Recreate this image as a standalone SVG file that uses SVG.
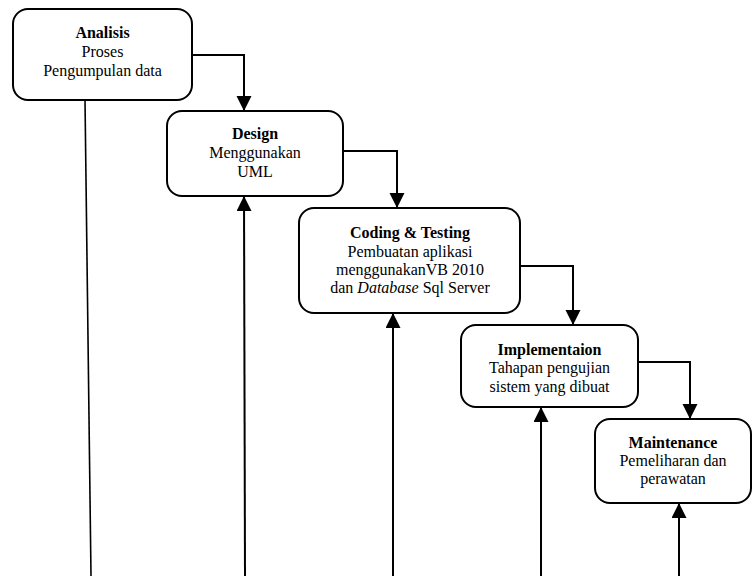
<svg xmlns="http://www.w3.org/2000/svg" width="753" height="576" viewBox="0 0 753 576">
<style>
.box{fill:#fff;stroke:#000;stroke-width:2}
text{font-family:"Liberation Serif","Times New Roman",serif;font-size:16px;fill:#000;text-anchor:middle}
.t{font-weight:bold}
.c{fill:none;stroke:#000;stroke-width:2}
.thin{fill:none;stroke:#000;stroke-width:1.6}
</style>
<defs>
<marker id="ah" markerUnits="userSpaceOnUse" markerWidth="16" markerHeight="16" refX="15" refY="7.5" orient="auto">
<path d="M0,0 L15,7.5 L0,15 z" fill="#000"/>
</marker>
</defs>
<rect width="753" height="576" fill="#fff"/>
<g id="connectors">
<path class="thin" d="M85,100 L91,576"/>
<path class="c" d="M192,55 H244 V111" marker-end="url(#ah)"/>
<path class="c" d="M343,151 H397 V208" marker-end="url(#ah)"/>
<path class="c" d="M520,266 H573 V325" marker-end="url(#ah)"/>
<path class="c" d="M638,362 H690 V419" marker-end="url(#ah)"/>
<path class="c" d="M245,576 L244,196" marker-end="url(#ah)"/>
<path class="c" d="M393,576 V313" marker-end="url(#ah)"/>
<path class="c" d="M541,576 V407" marker-end="url(#ah)"/>
<path class="c" d="M679,576 V503" marker-end="url(#ah)"/>
</g>
<g id="analisis">
<rect class="box" x="13" y="9" width="179" height="91" rx="15"/>
<text x="102.5" y="38" class="t">Analisis</text>
<text x="102.5" y="57">Proses</text>
<text x="102.5" y="76">Pengumpulan data</text>
</g>
<g id="design">
<rect class="box" x="167" y="111" width="176" height="85" rx="15"/>
<text x="255" y="139" class="t">Design</text>
<text x="255" y="158">Menggunakan</text>
<text x="255" y="177">UML</text>
</g>
<g id="coding">
<rect class="box" x="299" y="208" width="221" height="105" rx="15"/>
<text x="410" y="238" class="t">Coding &amp; Testing</text>
<text x="410" y="257">Pembuatan aplikasi</text>
<text x="410" y="275">menggunakanVB 2010</text>
<text x="410" y="293">dan <tspan font-style="italic">Database</tspan> Sql Server</text>
</g>
<g id="implementation">
<rect class="box" x="461" y="325" width="177" height="82" rx="15"/>
<text x="549.5" y="355" class="t">Implementaion</text>
<text x="549.5" y="373">Tahapan pengujian</text>
<text x="549.5" y="392">sistem yang dibuat</text>
</g>
<g id="maintenance">
<rect class="box" x="595" y="419" width="156" height="84" rx="15"/>
<text x="673" y="448" class="t">Maintenance</text>
<text x="673" y="466">Pemeliharan dan</text>
<text x="673" y="484">perawatan</text>
</g>
</svg>
